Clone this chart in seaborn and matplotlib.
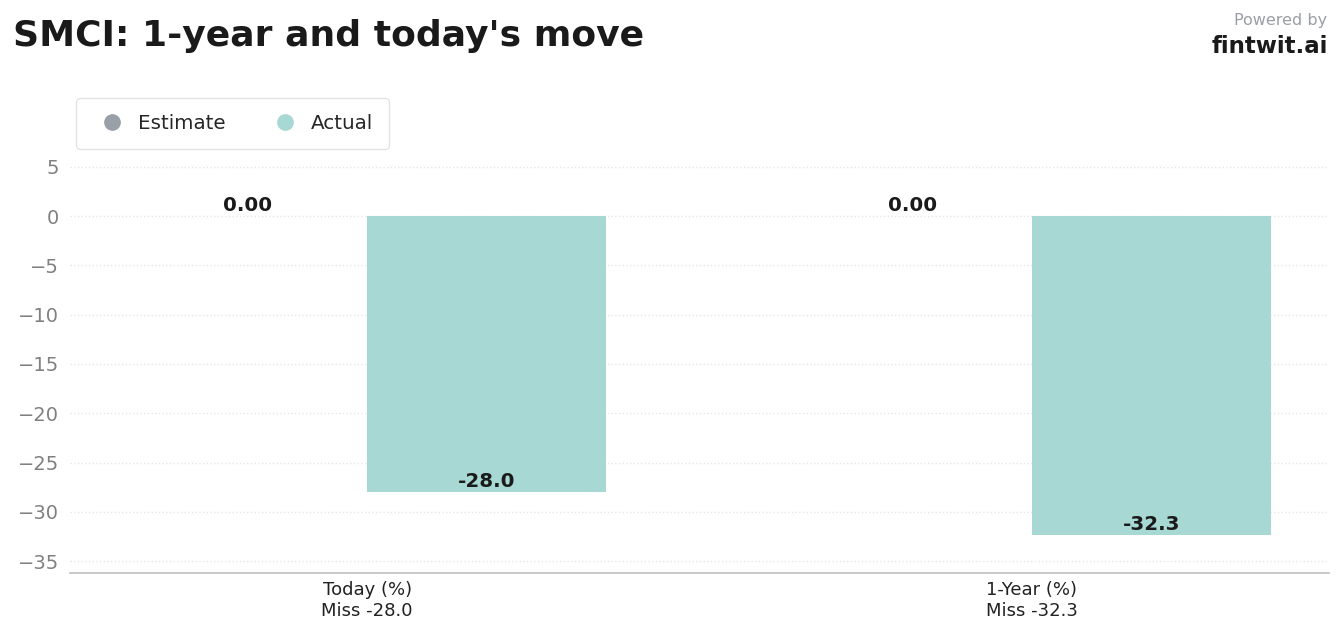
import matplotlib
matplotlib.use("Agg")
import matplotlib.pyplot as plt
import seaborn as sns
import pandas as pd
from matplotlib.lines import Line2D

categories = ["Today (%)\nMiss -28.0", "1-Year (%)\nMiss -32.3"]
estimate_values = [0.0, 0.0]
actual_values = [-28.0, -32.3]
series_names = ["Estimate", "Actual"]
colors = {"Estimate": "#9aa0a8", "Actual": "#a8d8d4"}
yticks = [5, 0, -5, -10, -15, -20, -25, -30, -35]

df = pd.DataFrame({
    "category": categories * 2,
    "series": ["Estimate"] * len(categories) + ["Actual"] * len(categories),
    "value": estimate_values + actual_values,
})

sns.set_style("white")
plt.rcParams['font.family'] = ['DejaVu Sans']

fig = plt.figure(figsize=(13.41, 6.31), dpi=100)
ax = fig.add_axes([0.0522, 0.0919, 0.9389, 0.675])

sns.barplot(data=df, x="category", y="value", hue="series", hue_order=series_names,
            palette=colors, width=0.72, ax=ax, legend=False, saturation=1, linewidth=0)

ax.set_xlim(-0.447, 1.447)
ax.set_ylim(-36.2, 7)
ax.set_yticks(yticks)
ax.set_xlabel("")
ax.set_ylabel("")
ax.tick_params(axis="y", labelsize=14, labelcolor="#808080", length=0, pad=8)
ax.tick_params(axis="x", labelsize=13, labelcolor="#222222", length=0, pad=6)
ax.grid(axis="y", linestyle=":", color="#e6e6e6", linewidth=1)
ax.set_axisbelow(True)
for s in ["top", "right", "left"]:
    ax.spines[s].set_visible(False)
ax.spines["bottom"].set_color("#c0c0c0")
ax.spines["bottom"].set_linewidth(1.2)

# value labels
for cont, name in zip(ax.containers, series_names):
    for bar in cont:
        h = bar.get_height()
        cx = bar.get_x() + bar.get_width() / 2
        txt = f"{h:.2f}" if name == "Estimate" else f"{h:.1f}"
        ax.annotate(txt, (cx, h), xytext=(0, 0.5), textcoords="offset points",
                    ha="center", va="bottom", fontsize=14.3, fontweight="bold", color="#1a1a1a")

handles = [Line2D([0], [0], marker="o", linestyle="", markersize=11,
                  markerfacecolor=colors[n], markeredgecolor=colors[n], label=n)
           for n in series_names]
leg = fig.legend(handles=handles, loc="upper left", bbox_to_anchor=(0.0567, 0.845), ncol=2,
                 fontsize=14.3, frameon=True, borderpad=0.8, columnspacing=2.0,
                 handletextpad=0.3, borderaxespad=0, fancybox=True)
leg.get_frame().set_edgecolor("#dddddd")
leg.get_frame().set_linewidth(1)

fig.text(0.0097, 0.943, "SMCI: 1-year and today's move", fontsize=26, fontweight="bold",
         color="#1a1a1a", ha="left", va="center")
fig.text(0.990, 0.968, "Powered by", fontsize=11.5, color="#9a9ea6", ha="right", va="center")
fig.text(0.990, 0.927, "fintwit.ai", fontsize=16.5, fontweight="bold", color="#1a1a1a",
         ha="right", va="center")

fig.savefig("out.png", dpi=100)
